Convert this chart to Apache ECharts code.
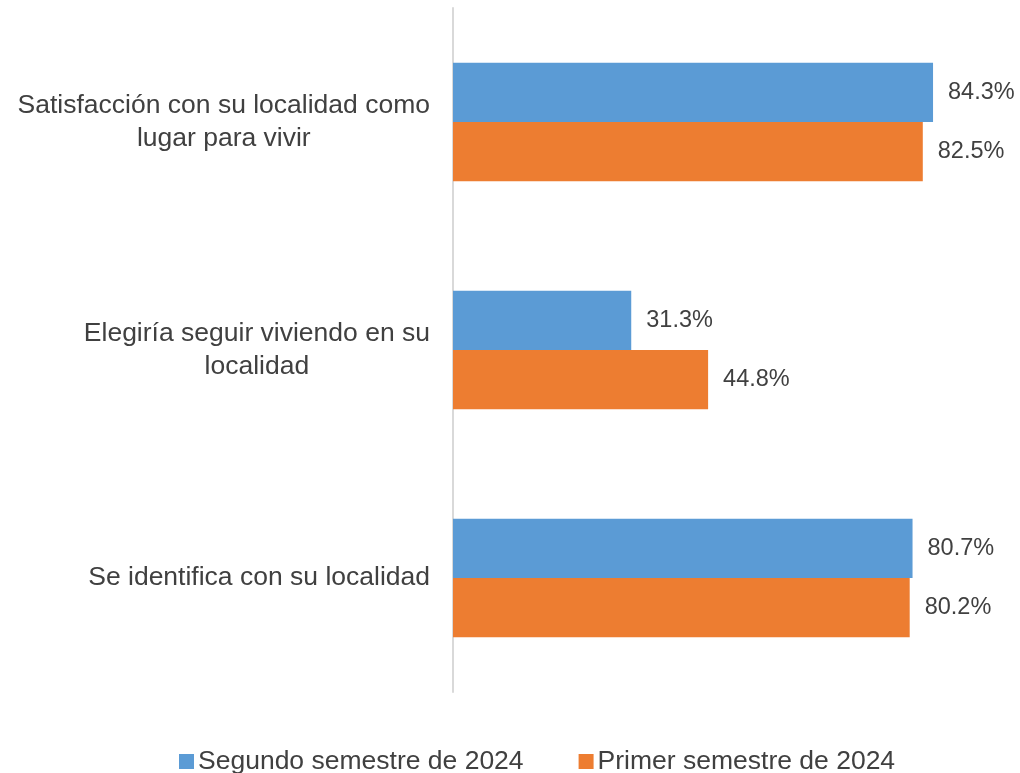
<!DOCTYPE html>
<html>
<head>
<meta charset="utf-8">
<script src="https://cdn.jsdelivr.net/npm/echarts@6/dist/echarts.min.js"></script>
<style>html,body{margin:0;padding:0;background:#fff}#c{width:1020px;height:773px}</style>
</head>
<body>
<div id="c"></div>
<script>
const categories = [
  "Satisfacción con su localidad como\nlugar para vivir",
  "Elegiría seguir viviendo en su\nlocalidad",
  "Se identifica con su localidad"
];
const seriesNames = ["Segundo semestre de 2024", "Primer semestre de 2024"];
const segundo2024 = [84.3, 31.3, 80.7];
const primer2024 = [82.5, 44.8, 80.2];

const chart = echarts.init(document.getElementById('c'));
const font = "'Liberation Sans', Arial, sans-serif";
const labelStyle = {
  show: true, position: 'right', distance: 15,
  formatter: p => p.value.toFixed(1) + '%',
  color: '#404040', fontSize: 23.5, fontFamily: font
};
chart.setOption({
  animation: false,
  backgroundColor: '#ffffff',
  grid: { left: 453, right: 54.5, top: 8, bottom: 81, containLabel: false },
  xAxis: { type: 'value', min: 0, max: 90, show: false },
  yAxis: {
    type: 'category', inverse: true, data: categories,
    axisLine: { show: true, lineStyle: { color: '#d9d9d9', width: 2 } },
    axisTick: { show: false },
    axisLabel: {
      margin: 23, color: '#404040', fontSize: 26.5, fontFamily: font, lineHeight: 33,
      formatter: v => v.split('\n').map(s => '{c|' + s + '}').join('\n'),
      rich: { c: { align: 'center', fontSize: 26.5, fontFamily: font, color: '#404040', lineHeight: 33 } }
    }
  },
  legend: {
    top: 743, left: 174, itemWidth: 15, itemHeight: 15, itemGap: 55,
    icon: 'rect',
    textStyle: { color: '#404040', fontSize: 26.5, fontFamily: font, padding: [0, 0, 0, -1] },
    data: seriesNames
  },
  series: [
    { name: seriesNames[0], type: 'bar', data: segundo2024, itemStyle: { color: '#5B9BD5' },
      barGap: '0%', barCategoryGap: '48%', label: labelStyle },
    { name: seriesNames[1], type: 'bar', data: primer2024, itemStyle: { color: '#ED7D31' },
      barGap: '0%', barCategoryGap: '48%', label: labelStyle }
  ]
});
</script>
</body>
</html>
